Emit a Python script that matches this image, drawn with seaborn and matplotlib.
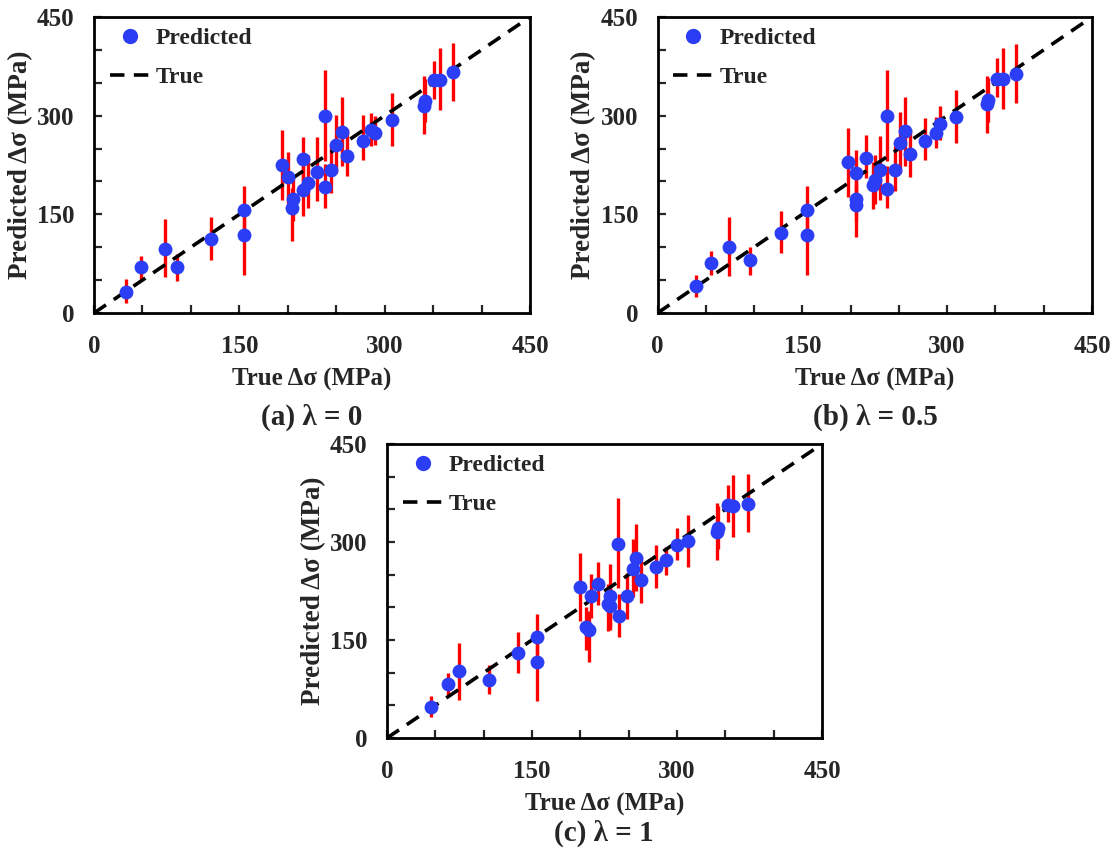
import matplotlib
matplotlib.use("Agg")
import matplotlib.pyplot as plt
from matplotlib.lines import Line2D
import numpy as np
import pandas as pd
import seaborn as sns

# ---------------- data ----------------
# panel (a) lambda = 0
a_true = [33, 49, 73, 86, 121, 155, 155, 194, 200, 205, 204, 216, 216, 221, 230,
          238, 238, 245, 250, 256, 261, 278, 286, 290, 308, 341, 342, 351, 357, 371]
a_pred = [32, 70, 98, 70, 113, 157, 119, 225, 206, 173, 159, 234, 187, 198, 215,
          300, 191, 218, 255, 275, 239, 262, 278, 273, 293, 315, 322, 354, 354, 366]
a_lo = [15, 50, 54, 48, 81, 121, 58, 172, 165, 140, 110, 200, 147, 160, 170,
        231, 160, 183, 213, 223, 208, 233, 254, 255, 254, 272, 290, 325, 308, 322]
a_hi = [51, 87, 143, 90, 146, 193, 160, 278, 245, 205, 190, 267, 225, 240, 267,
        370, 226, 254, 301, 328, 279, 301, 304, 300, 334, 361, 355, 383, 403, 411]

# panel (b) lambda = 0.5
b_true = [40, 55, 74, 96, 128, 155, 155, 197, 206, 206, 206, 216, 225, 223, 230,
          238, 238, 246, 251, 256, 261, 277, 288, 293, 309, 341, 342, 352, 358, 371]
b_pred = [41, 76, 100, 80, 122, 157, 118, 229, 213, 173, 164, 236, 202, 194, 217,
          300, 189, 218, 259, 276, 241, 262, 273, 288, 298, 317, 324, 356, 356, 364]
b_lo = [24, 58, 57, 58, 91, 122, 58, 177, 175, 140, 116, 205, 165, 158, 172,
        231, 160, 185, 213, 224, 206, 232, 251, 263, 259, 273, 290, 329, 310, 320]
b_hi = [58, 95, 146, 101, 155, 193, 160, 282, 248, 205, 195, 270, 240, 230, 269,
        370, 224, 254, 306, 328, 280, 296, 298, 314, 339, 360, 358, 387, 403, 409]

# panel (c) lambda = 1
c_true = [46, 63, 75, 106, 135, 155, 155, 200, 206, 209, 211, 218, 231, 229, 231,
          239, 240, 248, 254, 258, 263, 278, 289, 300, 311, 341, 342, 353, 358, 373]
c_pred = [48, 83, 102, 89, 130, 155, 117, 231, 170, 166, 217, 236, 218, 205, 202,
          297, 186, 217, 259, 275, 242, 261, 272, 296, 301, 315, 321, 357, 355, 358]
c_lo = [32, 65, 58, 68, 100, 120, 57, 179, 135, 117, 184, 204, 166, 164, 170,
        230, 155, 182, 216, 225, 207, 229, 249, 273, 261, 273, 290, 331, 308, 316]
c_hi = [65, 100, 145, 111, 162, 190, 155, 283, 200, 195, 251, 270, 266, 235, 235,
        368, 220, 253, 305, 328, 278, 296, 293, 322, 341, 359, 355, 387, 403, 404]

diag = [0, 450]
tick_vals = [0, 50, 100, 150, 200, 250, 300, 350, 400, 450]
tick_labels = ["0", "", "", "150", "", "", "300", "", "", "450"]
captions = ["(a) λ = 0", "(b) λ = 0.5", "(c) λ = 1"]
xlabel = "True Δσ (MPa)"
ylabel = "Predicted Δσ (MPa)"

# ---------------- style ----------------
sns.set_style("white")
plt.rcParams["font.family"] = ["Liberation Serif", "DejaVu Serif"]
plt.rcParams["font.weight"] = "bold"
plt.rcParams["axes.labelweight"] = "bold"

BLUE = "#2b3ef5"
RED = "#ff0000"

W, H = 1117, 848
fig = plt.figure(figsize=(W / 100, H / 100), dpi=100)


def px_axes(l, r, t, b):
    return fig.add_axes([l / W, 1 - b / H, (r - l) / W, (b - t) / H])


panels = [
    (px_axes(94, 530, 17, 313), a_true, a_pred, a_lo, a_hi),
    (px_axes(657.5, 1092, 17, 313), b_true, b_pred, b_lo, b_hi),
    (px_axes(387, 822, 444, 738), c_true, c_pred, c_lo, c_hi),
]

for i, (ax, xt, yp, lo, hi) in enumerate(panels):
    df = pd.DataFrame({"true": xt, "pred": yp, "lo": lo, "hi": hi})
    ax.vlines(df["true"], df["lo"], df["hi"], color=RED, lw=2.4, zorder=2)
    sns.lineplot(x=diag, y=diag, ax=ax, color="black", lw=2.6,
                 linestyle=(0, (4, 2.6)), zorder=3)
    sns.scatterplot(data=df, x="true", y="pred", ax=ax, s=100, color=BLUE,
                    edgecolor=BLUE, linewidth=0, zorder=4)
    ax.set_xlim(0, 450)
    ax.set_ylim(0, 450)
    ax.set_xticks(tick_vals)
    ax.set_xticklabels(tick_labels)
    ax.set_yticks(tick_vals)
    ax.set_yticklabels(tick_labels)
    ax.tick_params(axis="both", direction="in", length=6, width=1.6,
                   labelsize=18, top=False, right=False,
                   bottom=True, left=True)
    ax.tick_params(axis="x", pad=16)
    ax.tick_params(axis="y", pad=14)
    for s in ax.spines.values():
        s.set_linewidth(2.0)
        s.set_color("black")
    ax.set_xlabel(xlabel, fontsize=18, fontweight="bold", labelpad=7)
    ax.set_ylabel(ylabel, fontsize=19.5, fontweight="bold", labelpad=3)
    handles = [
        Line2D([], [], marker="o", linestyle="none", color=BLUE, markersize=10),
        Line2D([], [], color="black", lw=2.6, linestyle=(0, (4, 2.6))),
    ]
    ax.legend(handles, ["Predicted", "True"], loc="upper left", frameon=False,
              fontsize=17, handlelength=1.7, handletextpad=0.25,
              labelspacing=0.75, borderpad=0.1, borderaxespad=0.35,
              bbox_to_anchor=(0.012, 1.0))

fig.text(312 / W, 1 - 417 / H, captions[0], ha="center", va="center",
         fontsize=21, fontweight="bold")
fig.text(875 / W, 1 - 417 / H, captions[1], ha="center", va="center",
         fontsize=21, fontweight="bold")
fig.text(604 / W, 1 - 833 / H, captions[2], ha="center", va="center",
         fontsize=21, fontweight="bold")

fig.savefig("out.png", dpi=100)
